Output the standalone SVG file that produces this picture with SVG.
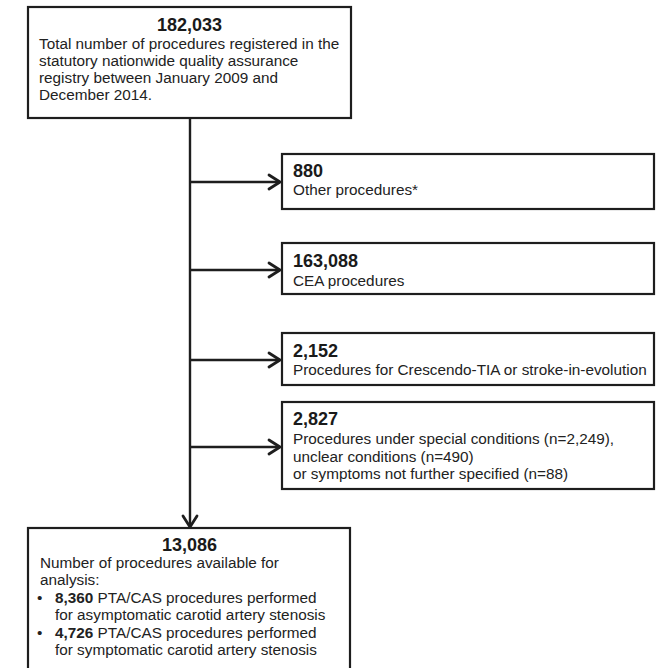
<svg xmlns="http://www.w3.org/2000/svg" width="659" height="668" viewBox="0 0 659 668">
<style>
.box{fill:#fff;stroke:#1e1e1e;stroke-width:2.2}
.num{font-family:"Liberation Sans",Arial,sans-serif;font-weight:bold;font-size:18px;fill:#1a1a1a}
.txt{font-family:"Liberation Sans",Arial,sans-serif;font-size:15.3px;fill:#222}
.b{font-weight:bold}
.line{fill:none;stroke:#1e1e1e;stroke-width:2.4}
.head{fill:none;stroke:#1e1e1e;stroke-width:2.8;stroke-linecap:round;stroke-linejoin:round}
</style>
<rect width="659" height="668" fill="#fff"/>
<g id="connectors">
<line class="line" x1="190" y1="118" x2="190" y2="527"/>
<line class="line" x1="190" y1="182" x2="280" y2="182"/>
<polyline class="head" points="269,175 280,182 269,189"/>
<line class="line" x1="190" y1="270" x2="280" y2="270"/>
<polyline class="head" points="269,263 280,270 269,277"/>
<line class="line" x1="190" y1="360" x2="280" y2="360"/>
<polyline class="head" points="269,353 280,360 269,367"/>
<line class="line" x1="190" y1="447" x2="280" y2="447"/>
<polyline class="head" points="269,440 280,447 269,454"/>
<polyline class="head" points="183,516 190,527 197,516"/>
</g>
<g id="n-total">
<rect class="box" x="28" y="7" width="323" height="111"/>
<text class="num" x="189.5" y="31" text-anchor="middle">182,033</text>
<text class="txt" x="39" y="49">Total number of procedures registered in the</text>
<text class="txt" x="39" y="66">statutory nationwide quality assurance</text>
<text class="txt" x="39" y="83">registry between January 2009 and</text>
<text class="txt" x="39" y="100">December 2014.</text>
</g>
<g id="n-other">
<rect class="box" x="282" y="154" width="372" height="55"/>
<text class="num" x="293" y="177">880</text>
<text class="txt" x="293" y="195">Other procedures*</text>
</g>
<g id="n-cea">
<rect class="box" x="282" y="243" width="372" height="51"/>
<text class="num" x="293" y="267">163,088</text>
<text class="txt" x="293" y="286">CEA procedures</text>
</g>
<g id="n-crescendo">
<rect class="box" x="282" y="333" width="372" height="52"/>
<text class="num" x="293" y="357">2,152</text>
<text class="txt" x="293" y="375">Procedures for Crescendo-TIA or stroke-in-evolution</text>
</g>
<g id="n-special">
<rect class="box" x="282" y="402" width="372" height="87"/>
<text class="num" x="293" y="425">2,827</text>
<text class="txt" x="293" y="444">Procedures under special conditions (n=2,249),</text>
<text class="txt" x="293" y="462">unclear conditions (n=490)</text>
<text class="txt" x="293" y="479">or symptoms not further specified (n=88)</text>
</g>
<g id="n-analysis">
<rect class="box" x="28" y="528" width="322" height="160"/>
<text class="num" x="189.5" y="551" text-anchor="middle">13,086</text>
<text class="txt" x="40" y="568">Number of procedures available for</text>
<text class="txt" x="40" y="585">analysis:</text>
<text class="txt" x="37" y="603">•</text>
<text class="txt" x="55" y="603"><tspan class="b">8,360</tspan> PTA/CAS procedures performed</text>
<text class="txt" x="55" y="620">for asymptomatic carotid artery stenosis</text>
<text class="txt" x="37" y="638">•</text>
<text class="txt" x="55" y="638"><tspan class="b">4,726</tspan> PTA/CAS procedures performed</text>
<text class="txt" x="55" y="655">for symptomatic carotid artery stenosis</text>
</g>
</svg>
